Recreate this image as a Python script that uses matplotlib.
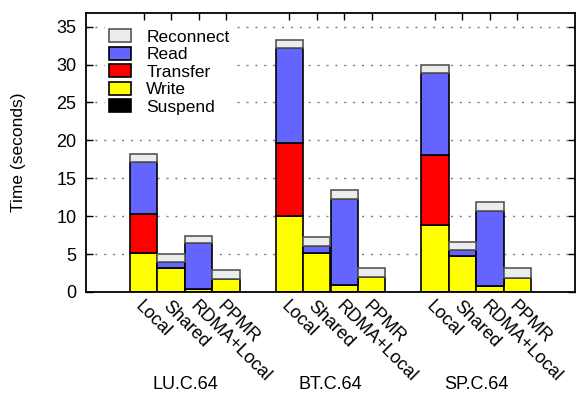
import numpy as np
import matplotlib
matplotlib.use('Agg')
import matplotlib.pyplot as plt

plt.rcParams['font.family'] = ['Liberation Sans', 'DejaVu Sans']

groups = ["LU.C.64", "BT.C.64", "SP.C.64"]
methods = ["Local", "Shared", "RDMA+Local", "PPMR"]
segments = ["Suspend", "Write", "Transfer", "Read", "Reconnect"]
colors = {"Suspend": "#000000", "Write": "#ffff00", "Transfer": "#ff0000",
          "Read": "#6464ff", "Reconnect": "#ececec"}

# seconds per phase, one row per group, one entry per method
suspend = [[0, 0, 0, 0], [0, 0, 0, 0], [0, 0, 0, 0]]
write = [[5.2, 3.2, 0.45, 1.7], [10.0, 5.15, 0.9, 2.0], [8.9, 4.7, 0.85, 1.9]]
transfer = [[5.15, 0, 0, 0], [9.6, 0, 0, 0], [9.15, 0, 0, 0]]
read = [[6.75, 0.7, 5.95, 0], [12.6, 0.95, 11.4, 0], [10.8, 0.9, 9.8, 0]]
reconnect = [[1.05, 1.15, 1.05, 1.15], [1.05, 1.1, 1.2, 1.1], [1.05, 1.05, 1.2, 1.2]]

data = {"Suspend": suspend, "Write": write, "Transfer": transfer,
        "Read": read, "Reconnect": reconnect}

fig = plt.figure(figsize=(5.82, 3.94), dpi=100)
ax = fig.add_axes([86/582, 1-292/394, 489/582, 279/394])

gap = 5.3
pos = []
labels = []
for g in range(len(groups)):
    for i in range(len(methods)):
        pos.append(g*gap + i)
        labels.append(methods[i])
pos = np.array(pos)

bottom = np.zeros(len(pos))
handles = {}
for s in segments:
    vals = np.array(data[s]).ravel()
    ec = "#555555" if s == "Reconnect" else "black"
    b = ax.bar(pos, vals, width=1.0, bottom=bottom, color=colors[s],
               edgecolor=ec, linewidth=1.2, zorder=2)
    handles[s] = b
    bottom += vals

fs = 13
ax.set_xlim(-2.1, 2*gap + 3 + 2.1)
ax.set_ylim(0, 36.8)
ax.set_yticks(np.arange(0, 36, 5))
ax.set_xticks(pos)
ax.set_xticklabels(labels, rotation=-45, ha='left', va='top',
                   rotation_mode='anchor', fontsize=fs)
ax.tick_params(axis='both', direction='in', top=True, right=True,
               length=5, width=1, labelsize=fs)
ax.tick_params(axis='x', pad=4)
ax.tick_params(axis='y', pad=7)
ax.yaxis.grid(True, color='#777777', linestyle=(0, (1.4, 5)), linewidth=1, zorder=0)
ax.set_axisbelow(True)
for sp in ax.spines.values():
    sp.set_linewidth(1.3)

ax.set_ylabel("Time (seconds)", fontsize=12.5, labelpad=22)

for g, name in enumerate(groups):
    ax.text(g*gap + 1.5, -0.33, name, transform=ax.get_xaxis_transform(),
            ha='center', va='center', fontsize=fs)

order = ["Reconnect", "Read", "Transfer", "Write", "Suspend"]
leg = ax.legend([handles[s] for s in order], order, loc='upper left',
                bbox_to_anchor=(0.022, 0.985), frameon=True, fontsize=12.5,
                handlelength=1.25, handleheight=0.75, handletextpad=0.9,
                labelspacing=0.12, borderpad=0.2)
leg.get_frame().set_edgecolor('white')
leg.get_frame().set_facecolor('white')
leg.get_frame().set_alpha(1)
leg.get_frame().set_boxstyle('square', pad=0)

fig.savefig('out.png', dpi=100)
